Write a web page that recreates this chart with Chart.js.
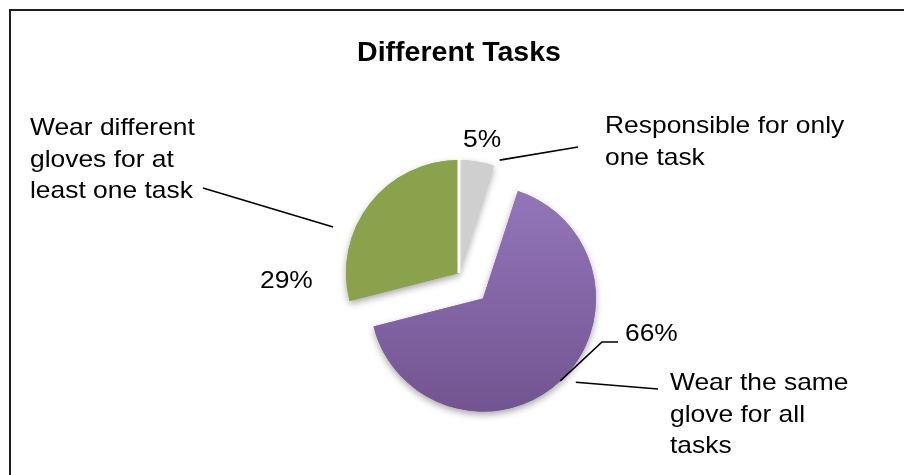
<!DOCTYPE html>
<html>
<head>
<meta charset="utf-8">
<title>Different Tasks</title>
<script src="https://cdn.jsdelivr.net/npm/chart.js@4.4.1/dist/chart.umd.min.js"></script>
<style>
  html, body { margin: 0; padding: 0; background: #fff; overflow: hidden; }
  #wrap { position: relative; width: 904px; height: 475px; overflow: hidden; }
  #frame { position: absolute; left: 9px; top: 9px; width: 1000px; height: 1000px; border: 2px solid #1e1e1e; pointer-events: none; }
  canvas { display: block; }
</style>
</head>
<body>
<div id="wrap">
  <canvas id="chart" width="904" height="475"></canvas>
  <div id="frame"></div>
</div>
<script>
const TITLE = "Different Tasks";
const CATEGORIES = [
  ["Responsible for only", "one task"],
  ["Wear the same", "glove for all", "tasks"],
  ["Wear different", "gloves for at", "least one task"],
];
const SHARES = [5, 66, 29];

const SLICE_COLORS = ["#cfcfcf", "#8466a8", "#8ba24c"];
const EXPLODE = [0, 35, 0];
const RADIUS = 113;
const LABEL_SIZE = 24;
const LABEL_STRETCH = 1.1;
const LINE_GAP = 31.5;

// where each slice's texts sit, and how its leader lines run
const CALLOUTS = [
  { pct: [463, 147], text: [605, 133], leaders: [{ t: 1.1, dr: 7, to: [[578, 147]] }] },
  {
    pct: [625, 341], text: [670, 390],
    leaders: [
      { t: 0.5, dr: 0, to: [[602, 342], [618, 342]] },
      { t: 0.48, dr: 12, to: [[658, 389]] },
    ],
  },
  { pct: [260, 288], text: [30, 135], leaders: [{ t: 0.33, dr: 21, to: [[203, 188]] }] },
];

function purpleFill(context) {
  const { chart } = context;
  const area = chart.chartArea;
  if (!area) return SLICE_COLORS[1];
  const cy = (area.top + area.bottom) / 2;
  const g = chart.ctx.createLinearGradient(0, cy - RADIUS, 0, cy + RADIUS);
  g.addColorStop(0, "#9477bb");
  g.addColorStop(1, "#725491");
  return g;
}

function explodeShift(arc, dist) {
  const { startAngle, endAngle } = arc.getProps(["startAngle", "endAngle"], true);
  const mid = (startAngle + endAngle) / 2;
  return [Math.cos(mid) * dist, Math.sin(mid) * dist];
}

function arcPoint(arc, shift, t, dr) {
  const p = arc.getProps(["x", "y", "startAngle", "endAngle", "outerRadius"], true);
  const a = p.startAngle + (p.endAngle - p.startAngle) * t;
  const r = p.outerRadius + dr;
  return [p.x + shift[0] + Math.cos(a) * r, p.y + shift[1] + Math.sin(a) * r];
}

function drawText(ctx, text, x, y) {
  ctx.save();
  ctx.translate(x, y);
  ctx.scale(LABEL_STRETCH, 1);
  ctx.fillText(text, 0, 0);
  ctx.restore();
}

const pieDecor = {
  id: "pieDecor",
  beforeDatasetDraw(chart, args) {
    const ctx = chart.ctx;
    const arcs = args.meta.data;
    // soft drop shadow first, then the slices themselves on top
    ["shadow", "fill"].forEach((pass) => {
      arcs.forEach((arc, i) => {
        const [dx, dy] = explodeShift(arc, EXPLODE[i]);
        ctx.save();
        ctx.translate(dx, dy);
        if (pass === "shadow") {
          ctx.shadowColor = "rgba(0,0,0,0.35)";
          ctx.shadowBlur = 7;
          ctx.shadowOffsetY = 3;
        }
        arc.draw(ctx);
        ctx.restore();
      });
    });
    // thin white seam where two slices that stay in place meet
    ctx.save();
    ctx.strokeStyle = "#ffffff";
    ctx.lineWidth = 3;
    arcs.forEach((arc, i) => {
      const prev = (i - 1 + arcs.length) % arcs.length;
      if (EXPLODE[i] || EXPLODE[prev]) return;
      const p = arc.getProps(["x", "y", "startAngle", "outerRadius"], true);
      ctx.beginPath();
      ctx.moveTo(p.x, p.y);
      ctx.lineTo(p.x + Math.cos(p.startAngle) * (p.outerRadius + 1), p.y + Math.sin(p.startAngle) * (p.outerRadius + 1));
      ctx.stroke();
    });
    ctx.restore();
    return false;
  },
  afterDatasetsDraw(chart) {
    const ctx = chart.ctx;
    const arcs = chart.getDatasetMeta(0).data;
    ctx.save();
    ctx.font = `${LABEL_SIZE}px "Liberation Sans", Arial, sans-serif`;
    ctx.textAlign = "left";
    ctx.textBaseline = "alphabetic";
    ctx.fillStyle = "#000";
    ctx.strokeStyle = "#000";
    ctx.lineWidth = 1.6;
    arcs.forEach((arc, i) => {
      const c = CALLOUTS[i];
      const shift = explodeShift(arc, EXPLODE[i]);
      c.leaders.forEach((ld) => {
        const start = arcPoint(arc, shift, ld.t, ld.dr);
        ctx.beginPath();
        ctx.moveTo(start[0], start[1]);
        ld.to.forEach(([x, y]) => ctx.lineTo(x, y));
        ctx.stroke();
      });
      drawText(ctx, `${SHARES[i]}%`, c.pct[0], c.pct[1]);
      CATEGORIES[i].forEach((line, k) => drawText(ctx, line, c.text[0], c.text[1] + k * LINE_GAP));
    });
    ctx.restore();
  },
};

new Chart(document.getElementById("chart"), {
  type: "pie",
  data: {
    labels: CATEGORIES.map((l) => l.join(" ")),
    datasets: [{
      data: SHARES,
      backgroundColor: (c) => (c.dataIndex === 1 ? purpleFill(c) : SLICE_COLORS[c.dataIndex]),
      borderWidth: 0,
    }],
  },
  options: {
    responsive: false,
    devicePixelRatio: 1,
    animation: false,
    radius: RADIUS,
    layout: { padding: { left: 14, right: 0, top: 0, bottom: 9.2 } },
    plugins: {
      legend: { display: false },
      tooltip: { enabled: false },
      title: {
        display: true,
        text: TITLE,
        color: "#000",
        font: { family: '"Liberation Sans", Arial, sans-serif', size: 28.5, weight: "bold", lineHeight: 1.2 },
        padding: { top: 36, bottom: 10 },
      },
    },
  },
  plugins: [pieDecor],
});
</script>
</body>
</html>
